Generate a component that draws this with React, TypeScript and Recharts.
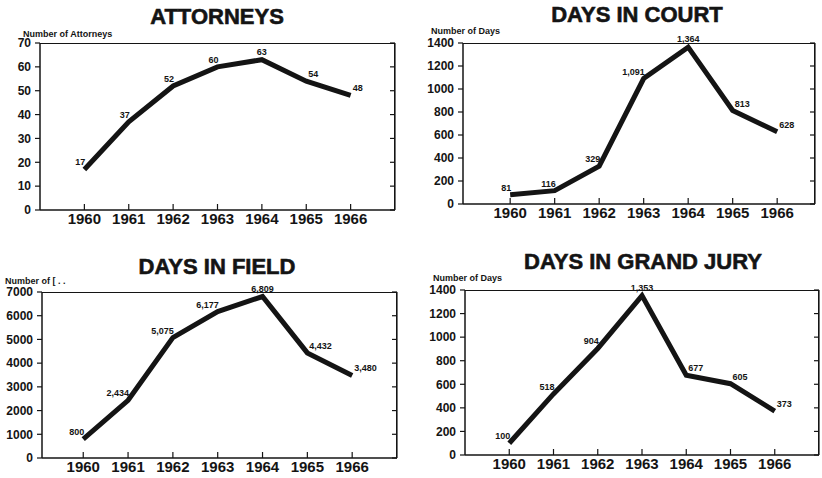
import React from 'react';
import { LineChart, Line, XAxis, YAxis, LabelList } from 'recharts';

const years = [1960, 1961, 1962, 1963, 1964, 1965, 1966];
const attorneys = [17, 37, 52, 60, 63, 54, 48];
const daysInCourt = [81, 116, 329, 1091, 1364, 813, 628];
const daysInField = [800, 2434, 5075, 6177, 6809, 4432, 3480];
const daysInGrandJury = [100, 518, 904, 1353, 677, 605, 373];

const attorneyTicks = [0, 10, 20, 30, 40, 50, 60, 70];
const courtTicks = [0, 200, 400, 600, 800, 1000, 1200, 1400];
const fieldTicks = [0, 1000, 2000, 3000, 4000, 5000, 6000, 7000];
const juryTicks = [0, 200, 400, 600, 800, 1000, 1200, 1400];

const titles = ['ATTORNEYS', 'DAYS IN COURT', 'DAYS IN FIELD', 'DAYS IN GRAND JURY'];
const axisTitles = ['Number of Attorneys', 'Number of Days', 'Number of [ . .', 'Number of Days'];

const FONT = '"Liberation Sans", Arial, sans-serif';
const INK = '#141414';

type Layout = {
  L: number; T: number; R: number; B: number;
  xDomain: [number, number];
  titleX: number; titleY: number;
  labelX: number; labelY: number;
};

const layouts: Layout[] = [
  { L: 40, T: 43, R: 395, B: 210, xDomain: [1959, 1967], titleX: 217, titleY: 17, labelX: 23, labelY: 34 },
  { L: 463, T: 43, R: 815, B: 204, xDomain: [1958.94, 1966.85], titleX: 637, titleY: 15, labelX: 431, labelY: 31 },
  { L: 42, T: 292, R: 397, B: 458, xDomain: [1959.08, 1967], titleX: 217, titleY: 267, labelX: 5, labelY: 281 },
  { L: 465, T: 290, R: 819, B: 455, xDomain: [1959, 1967], titleX: 643, titleY: 262, labelX: 433, labelY: 278 },
];

const YW = 40;
const MT = 12;
const RW = 8;
const XH = 24;

function makeLabel(values: number[]) {
  const peak = values.indexOf(Math.max(...values));
  return (props: any) => {
    const { x, y, value, index } = props;
    if (x == null || y == null) return null;
    let anchor: 'start' | 'middle' | 'end' = 'middle';
    let tx = x;
    let ty = y - 5;
    if (index < peak) { anchor = 'end'; tx = x + 1; ty = y - 4; }
    else if (index > peak) { anchor = 'start'; tx = x + 2; ty = y - 4; }
    return (
      <text x={tx} y={ty} textAnchor={anchor} fontSize={9} fontWeight="bold"
        fill={INK} fontFamily={FONT}>
        {Number(value).toLocaleString('en-US')}
      </text>
    );
  };
}

function Panel({ values, ticks, layout, title, axisTitle }: {
  values: number[]; ticks: number[]; layout: Layout; title: string; axisTitle: string;
}) {
  const data = years.map((y, i) => ({ year: y, v: values[i] }));
  const cx = layout.L - YW;
  const cy = layout.T - MT;
  const w = layout.R - cx + RW;
  const h = layout.B - cy + XH;
  const yMax = ticks[ticks.length - 1];
  return (
    <>
      <div style={{
        position: 'absolute', left: layout.titleX, top: layout.titleY,
        transform: 'translate(-50%, -50%)', fontFamily: FONT, fontWeight: 'bold',
        fontSize: 22, lineHeight: '22px', whiteSpace: 'nowrap', color: INK,
        WebkitTextStroke: '0.6px ' + INK,
      }}>{title}</div>
      <div style={{
        position: 'absolute', left: layout.labelX, top: layout.labelY,
        transform: 'translateY(-50%)', fontFamily: FONT, fontWeight: 'bold',
        fontSize: 9, lineHeight: '9px', whiteSpace: 'nowrap', color: INK,
      }}>{axisTitle}</div>
      <div style={{
        position: 'absolute', left: layout.L, top: layout.T,
        width: layout.R - layout.L, height: layout.B - layout.T,
        borderTop: '1.2px solid ' + INK, borderRight: '1.2px solid ' + INK,
        boxSizing: 'border-box',
      }} />
      <div style={{ position: 'absolute', left: cx, top: cy }}>
        <LineChart width={w} height={h} data={data}
          margin={{ top: MT, right: 0, bottom: 0, left: 0 }}>
          <XAxis dataKey="year" type="number" domain={layout.xDomain} ticks={years}
            allowDataOverflow interval={0} height={XH}
            tickSize={-6} tickMargin={9}
            tick={{ fontSize: 15, fontWeight: 'bold', fill: INK, fontFamily: FONT }}
            axisLine={{ stroke: INK, strokeWidth: 1.5 }}
            tickLine={{ stroke: INK, strokeWidth: 1.2 }} />
          <YAxis type="number" domain={[0, yMax]} ticks={ticks} allowDataOverflow interval={0}
            width={YW} tickSize={5} tickMargin={4}
            tick={{ fontSize: 12, fontWeight: 'bold', fill: INK, fontFamily: FONT }}
            axisLine={{ stroke: INK, strokeWidth: 1.5 }}
            tickLine={{ stroke: INK, strokeWidth: 1.2 }} />
          <YAxis yAxisId="r" orientation="right" type="number" domain={[0, yMax]}
            ticks={ticks} allowDataOverflow interval={0} width={RW} tickSize={-5}
            tickFormatter={() => ''}
            axisLine={{ stroke: INK, strokeWidth: 1.2 }}
            tickLine={{ stroke: INK, strokeWidth: 1.2 }} />
          <Line yAxisId="r" type="linear" dataKey="v" stroke="none" dot={false}
            activeDot={false} isAnimationActive={false} />
          <Line type="linear" dataKey="v" stroke={INK} strokeWidth={5} dot={false}
            isAnimationActive={false}>
            <LabelList dataKey="v" content={makeLabel(values)} />
          </Line>
        </LineChart>
      </div>
    </>
  );
}

export default function App() {
  const series = [attorneys, daysInCourt, daysInField, daysInGrandJury];
  const tickSets = [attorneyTicks, courtTicks, fieldTicks, juryTicks];
  return (
    <div style={{ position: 'absolute', left: 0, top: 0, width: 822, height: 478, background: '#fff', overflow: 'hidden' }}>
      {layouts.map((l, i) => (
        <Panel key={i} values={series[i]} ticks={tickSets[i]} layout={l}
          title={titles[i]} axisTitle={axisTitles[i]} />
      ))}
    </div>
  );
}
